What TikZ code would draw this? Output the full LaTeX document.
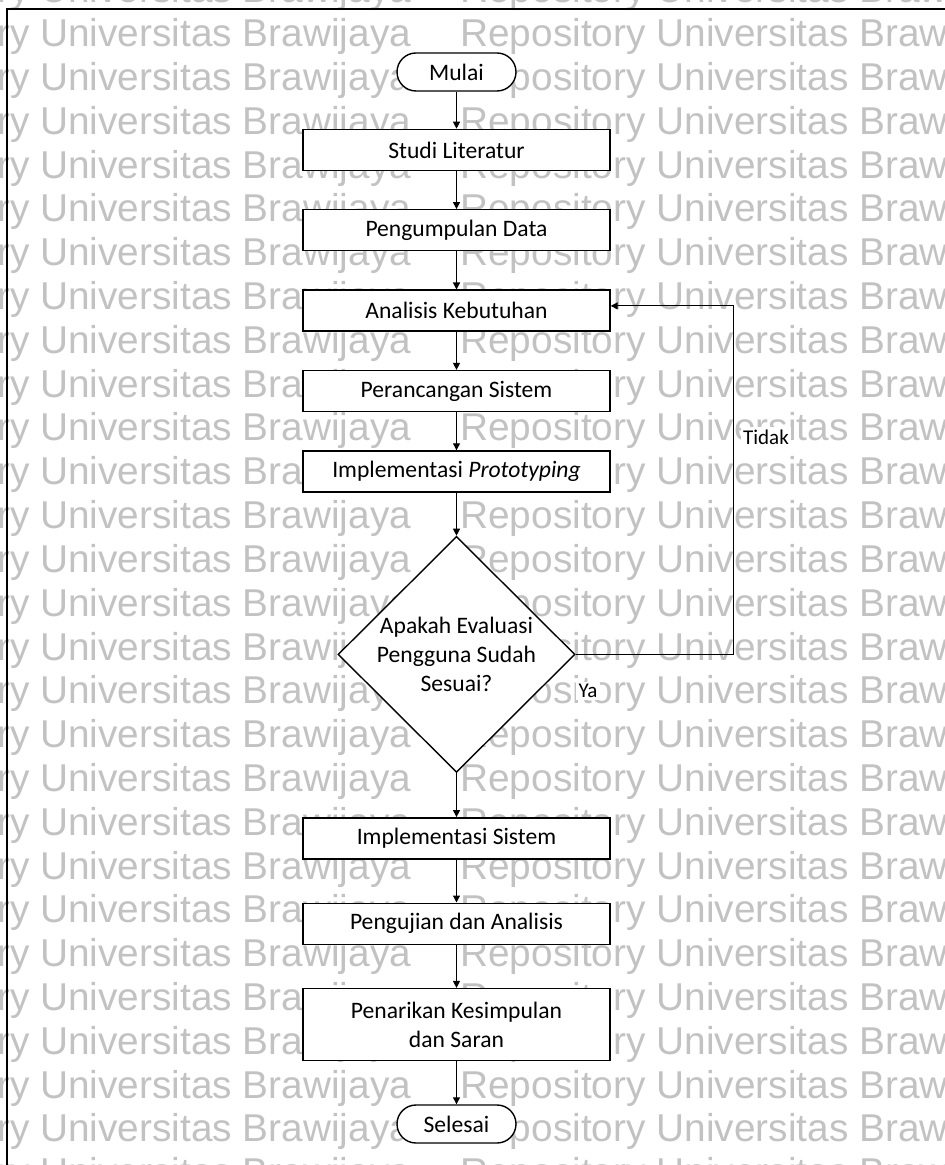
\documentclass[tikz,border=0pt]{standalone}
\usepackage{fontspec}
\setmainfont{Carlito}
\newfontfamily\wmfont{Liberation Sans}
\usetikzlibrary{arrows.meta,positioning,shapes.geometric}
\definecolor{mark}{HTML}{C2C2C2}

\begin{document}
\begin{tikzpicture}[x=1pt,y=1pt,font=\fontsize{11.8}{14.6}\selectfont,node distance=19pt,
box/.style={draw,line width=.7pt,fill=white,minimum width=153.5pt,minimum height=20.5pt,inner sep=2pt,align=center},
term/.style={box,rounded corners=9.5pt,minimum width=59.5pt,minimum height=19pt},
cond/.style={diamond,draw,line width=.7pt,fill=white,minimum width=118.5pt,minimum height=118pt,inner sep=-2pt,align=center},
arrow/.style={-{Triangle[length=3.5pt,width=3.5pt]},line width=.6pt},
lbl/.style={fill=white,inner sep=1.2pt,font=\fontsize{10.5}{12}\selectfont},
wm/.style={anchor=base west,text=mark,inner sep=0pt,font=\wmfont\fontsize{19.4}{20}\selectfont}]
\useasboundingbox (0,0) rectangle (472.5,-582.5);
\clip (0,0) rectangle (472.5,-582.5);
% watermark rows
\foreach \k in {-1,...,26}{
  \node[wm] at (20,-23.35-21.905*\k) {\llap{Repository }Universitas Brawijaya};
  \node[wm] at (230,-23.35-21.905*\k) {Repository Universitas Brawijaya};}
\draw[line width=.9pt] (3.5,-582.5) -- (3.5,-4.5) -- (472.5,-4.5);
% flow
\node[term] (mulai) at (228.25,-36) {Mulai};
\node[box,below=18.5pt of mulai] (studi) {Studi Literatur};
\node[box,below=of studi] (data) {Pengumpulan Data};
\node[box,below=of data] (butuh) {Analisis Kebutuhan};
\node[box,below=of butuh] (rancang) {Perancangan Sistem};
\node[box,below=of rancang] (proto) {Implementasi \textit{Prototyping}};
\node[cond,below=21.5pt of proto] (eval) {Apakah Evaluasi\\Pengguna Sudah\\Sesuai?};
\node[box,below=22pt of eval] (impl) {Implementasi Sistem};
\node[box,below=21.5pt of impl] (uji) {Pengujian dan Analisis};
\node[box,below=21.5pt of uji,minimum height=36pt] (simpul) {Penarikan Kesimpulan\\dan Saran};
\node[term,below=21.5pt of simpul] (selesai) {Selesai};
\draw[arrow](mulai)--(studi);\draw[arrow](studi)--(data);\draw[arrow](data)--(butuh);
\draw[arrow](butuh)--(rancang);\draw[arrow](rancang)--(proto);\draw[arrow](proto)--(eval);
\draw[arrow](eval)--(impl);\draw[arrow](impl)--(uji);\draw[arrow](uji)--(simpul);\draw[arrow](simpul)--(selesai);
\draw[arrow](eval.east)--++(79,0)|-([yshift=2.4pt]butuh.east);
\node[lbl] (tidak) at (383,-218.5) {Tidak};
\node[lbl] (ya) at (294,-345.5) {Ya};
\end{tikzpicture}
\end{document}
